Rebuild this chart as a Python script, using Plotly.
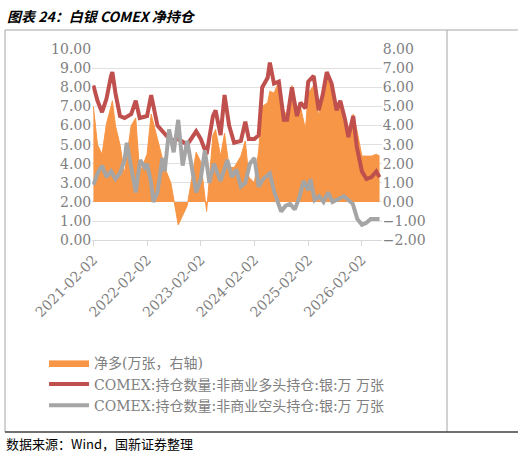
import plotly.graph_objects as go

long_dates = ["2021-02-02", "2021-03-02", "2021-04-02", "2021-05-02", "2021-06-02", "2021-06-11",
              "2021-07-02", "2021-08-02", "2021-09-02", "2021-10-17", "2021-11-17", "2021-12-14",
              "2022-02-02", "2022-03-02", "2022-04-14", "2022-06-02", "2022-07-14", "2022-09-02",
              "2022-11-02", "2023-01-02", "2023-02-02", "2023-03-14", "2023-04-26", "2023-05-14",
              "2023-06-17", "2023-07-14", "2023-08-14", "2023-09-17", "2023-11-02", "2023-12-02",
              "2023-12-26", "2024-02-02", "2024-03-02", "2024-03-26", "2024-05-02", "2024-05-17",
              "2024-06-14", "2024-07-17", "2024-08-20", "2024-09-11", "2024-10-14", "2024-11-17",
              "2024-12-11", "2025-01-14", "2025-02-02", "2025-03-11", "2025-04-14", "2025-05-11",
              "2025-06-08", "2025-07-11", "2025-08-14", "2025-09-08", "2025-10-11", "2025-11-02",
              "2025-12-05", "2025-12-29", "2026-02-02", "2026-03-05", "2026-04-08", "2026-05-11",
              "2026-06-02"]
long_pos = [8.1, 7.3, 6.7, 7.4, 8.6, 8.8, 7.7, 6.5, 6.4, 6.6,
            7.3, 6.4, 6.5, 7.6, 6.0, 5.6, 5.2, 5.3, 5.0, 5.7,
            5.3, 4.5, 6.5, 6.8, 5.5, 7.6, 6.0, 5.1, 5.2, 6.2,
            5.3, 5.3, 5.5, 8.0, 8.5, 9.3, 8.2, 8.3, 6.3, 6.3,
            8.0, 6.5, 7.2, 6.9, 8.3, 8.6, 6.8, 7.6, 8.8, 8.2,
            6.8, 7.3, 6.3, 5.4, 6.5, 4.9, 3.6, 3.2, 3.3, 3.6,
            3.3]
net_pos = [5.0, 3.0, 2.5, 4.1, 5.0, 5.3, 4.0, 3.0, 1.5, 4.0,
           4.4, 1.5, 2.5, 4.6, 3.3, 1.8, 1.0, -1.2, -0.2, 2.6,
           2.1, -0.5, 3.5, 3.8, 2.4, 3.6, 1.8, 1.8, 2.4, 3.2,
           1.3, 1.0, 2.7, 5.0, 5.2, 5.8, 5.7, 6.3, 4.8, 4.5,
           6.1, 4.9, 5.0, 3.8, 5.7, 6.1, 4.5, 5.6, 6.4, 6.2,
           4.7, 5.1, 4.0, 3.3, 4.6, 3.8, 2.4, 2.4, 2.4, 2.5,
           2.4]

short_dates = ["2021-02-02", "2021-03-02", "2021-04-02", "2021-05-02", "2021-06-02", "2021-07-02",
               "2021-08-02", "2021-09-02", "2021-09-17", "2021-10-17", "2021-11-17", "2021-12-17",
               "2022-01-17", "2022-02-02", "2022-03-02", "2022-03-17", "2022-04-14", "2022-05-17",
               "2022-06-02", "2022-07-02", "2022-08-02", "2022-09-02", "2022-09-17", "2022-10-02",
               "2022-11-02", "2022-12-02", "2023-01-02", "2023-02-02", "2023-03-02", "2023-04-02",
               "2023-05-02", "2023-06-17", "2023-08-02", "2023-09-02", "2023-10-02", "2023-11-02",
               "2023-12-02", "2024-01-02", "2024-02-02", "2024-03-02", "2024-04-02", "2024-05-17",
               "2024-06-17", "2024-08-02", "2024-09-02", "2024-10-02", "2024-11-02", "2024-12-02",
               "2025-01-02", "2025-02-02", "2025-02-17", "2025-03-17", "2025-04-17", "2025-05-17",
               "2025-06-17", "2025-07-17", "2025-09-02", "2025-10-02", "2025-11-02", "2025-12-02",
               "2026-01-02", "2026-02-02", "2026-03-02", "2026-04-02", "2026-06-02"]
short_pos = [2.9, 3.5, 3.9, 3.3, 3.6, 3.2, 3.5, 4.2, 5.1, 3.7,
             2.5, 4.2, 3.8, 4.0, 3.0, 2.0, 2.5, 4.3, 3.6, 5.8,
             4.6, 6.3, 5.0, 3.9, 5.2, 3.8, 2.5, 3.2, 4.7, 3.0,
             4.0, 3.1, 4.2, 3.3, 3.7, 2.8, 3.0, 4.0, 4.3, 2.8,
             3.2, 3.5, 2.5, 1.5, 1.8, 1.9, 1.6, 2.2, 3.1, 2.6,
             3.2, 2.1, 2.3, 2.0, 2.5, 2.0, 2.2, 2.3, 2.1, 1.9,
             1.1, 0.8, 0.9, 1.1, 1.1]

x_ticks = ["2021-02-02", "2022-02-02", "2023-02-02", "2024-02-02", "2025-02-02", "2026-02-02"]

tick_font = dict(family="DejaVu Serif, Noto Sans CJK SC", size=14, color="#808080")

fig = go.Figure()
# net long on the primary (right-side) axis so that the lines on the overlay axis sit on top
fig.add_trace(go.Scatter(x=long_dates, y=net_pos, yaxis="y", mode="lines", fill="tozeroy",
                         line=dict(color="#F79646", width=1), fillcolor="#F79646",
                         name="净多(万张，右轴)"))
fig.add_trace(go.Scatter(x=long_dates, y=long_pos, yaxis="y2", mode="lines",
                         line=dict(color="#C0504D", width=4),
                         name="COMEX:持仓数量:非商业多头持仓:银:万 万张"))
fig.add_trace(go.Scatter(x=short_dates, y=short_pos, yaxis="y2", mode="lines",
                         line=dict(color="#A5A5A5", width=4),
                         name="COMEX:持仓数量:非商业空头持仓:银:万 万张"))

fig.update_layout(
    width=518, height=460, margin=dict(l=0, r=0, t=0, b=0),
    plot_bgcolor="white", paper_bgcolor="white", showlegend=True,
    xaxis=dict(domain=[0.178, 0.737], range=["2021-01-25", "2026-06-17"], tickvals=x_ticks,
               ticktext=x_ticks, tickangle=-45, tickfont=tick_font, showgrid=False, automargin=False,
               showline=True, linecolor="#D9D9D9", ticks="outside", tickcolor="#D9D9D9", ticklen=5),
    yaxis=dict(domain=[0.478, 0.893], side="right", range=[-2, 8], dtick=1, tickformat=".2f",
               automargin=False, tickfont=tick_font, gridcolor="#E0E0E0", zeroline=False),
    yaxis2=dict(overlaying="y", side="left", range=[0, 10], dtick=1, tickformat=".2f",
                automargin=False, tickfont=tick_font, showgrid=False, zeroline=False),
    legend=dict(x=0.085, y=0.245, xanchor="left", yanchor="top", tracegroupgap=0,
                font=dict(family="DejaVu Serif, Noto Sans CJK SC", size=14, color="#808080"),
                itemwidth=40),
    font=dict(family="Noto Sans CJK SC"),
)

fig.add_annotation(text="<b><i>图表 24：白银 COMEX 净持仓</i></b>", x=0.01, y=1 - 16 / 460,
                   xref="paper", yref="paper", xanchor="left", yanchor="middle", showarrow=False,
                   font=dict(size=14, color="black", family="Noto Sans CJK SC"))
fig.add_annotation(text="数据来源：Wind，国新证券整理", x=0.008, y=1 - 443 / 460,
                   xref="paper", yref="paper", xanchor="left", yanchor="middle", showarrow=False,
                   font=dict(size=13, color="black", family="Noto Sans CJK SC"))

frame = dict(color="#A6A6A6", width=1)
fig.add_shape(type="line", xref="paper", yref="paper", x0=5 / 518, x1=5 / 518, y0=1 - 30 / 460, y1=1 - 432 / 460, line=frame)
fig.add_shape(type="line", xref="paper", yref="paper", x0=447 / 518, x1=447 / 518, y0=1 - 30 / 460, y1=1 - 432 / 460, line=frame)
fig.add_shape(type="line", xref="paper", yref="paper", x0=5 / 518, x1=1, y0=1 - 30 / 460, y1=1 - 30 / 460, line=frame)
fig.add_shape(type="line", xref="paper", yref="paper", x0=5 / 518, x1=1, y0=1 - 432 / 460, y1=1 - 432 / 460,
              line=dict(color="#404040", width=1.5))

fig.write_html("out.html", config={"displayModeBar": False},
               post_script="document.body.style.margin='0px';")
